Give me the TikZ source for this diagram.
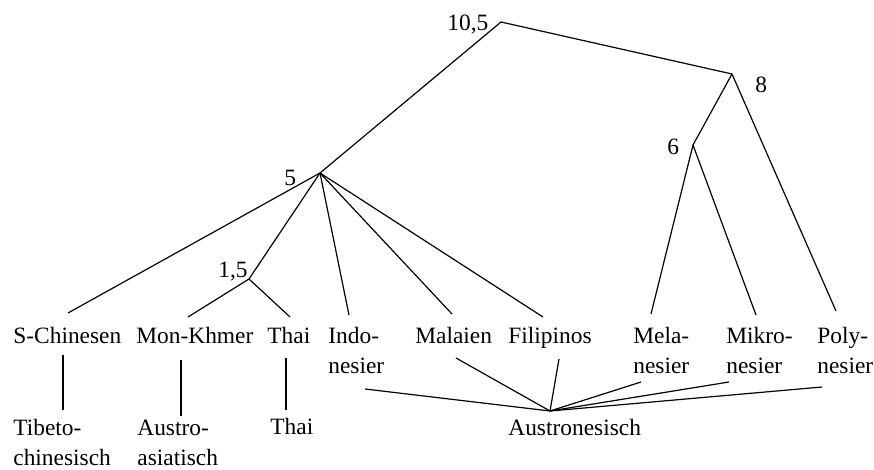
\documentclass[tikz,border=0pt]{standalone}
\usepackage{fontspec}
\setmainfont{Liberation Serif}
\begin{document}
\begin{tikzpicture}[x=0.5pt,y=-0.5pt,
  lbl/.style={inner sep=0pt,anchor=base west,align=left,
    font=\fontsize{11.7}{15.2}\selectfont},
  edge/.style={line width=0.6pt}]
\useasboundingbox (0,0) rectangle (874,470);

% branching points of the tree
\coordinate (r)   at (501,22);
\coordinate (n8)  at (732,74);
\coordinate (n6)  at (693,145);
\coordinate (n5)  at (320,173);
\coordinate (n15) at (249,279);

% value labels at the branching points
\node[lbl] (v105) at (447,31)  {10,5};
\node[lbl] (v8)   at (755,93)  {8};
\node[lbl] (v6)   at (667,155) {6};
\node[lbl] (v5)   at (284,186) {5};
\node[lbl] (v15)  at (218,278) {1,5};

% population names (multi-line nodes sit on the baseline of their last line)
\node[lbl] (sc) at (13,344)  {S-Chinesen};
\node[lbl] (mk) at (136,344) {Mon-Khmer};
\node[lbl] (th) at (267,344) {Thai};
\node[lbl] (in) at (328,374) {Indo-\\nesier};
\node[lbl] (ma) at (415,344) {Malaien};
\node[lbl] (fi) at (508,344) {Filipinos};
\node[lbl] (me) at (633,374) {Mela-\\nesier};
\node[lbl] (mi) at (726,374) {Mikro-\\nesier};
\node[lbl] (po) at (817,374) {Poly-\\nesier};

% language families
\node[lbl] (tib) at (13,466)  {Tibeto-\\chinesisch};
\node[lbl] (aas) at (137,466) {Austro-\\asiatisch};
\node[lbl] (tha) at (270,435) {Thai};
\node[lbl] (aus) at (508,436) {Austronesisch};

% attachment points above the names
\coordinate (scT) at (68,313);
\coordinate (mkT) at (188,317);
\coordinate (thT) at (290,317);
\coordinate (inT) at (349,315);
\coordinate (maT) at (452,314);
\coordinate (fiT) at (543,317);
\coordinate (meT) at (651,314);
\coordinate (miT) at (756,315);
\coordinate (poT) at (836,311);

% attachment points below the names
\coordinate (scB) at (63,355);
\coordinate (mkB) at (181,360);
\coordinate (thB) at (286,358);
\coordinate (inB) at (365,389);
\coordinate (maB) at (456,358);
\coordinate (fiB) at (559,359);
\coordinate (meB) at (641,382);
\coordinate (miB) at (729,382);
\coordinate (poB) at (822,387);

% attachment points above the families
\coordinate (tibT) at (63,410);
\coordinate (aasT) at (181,416);
\coordinate (thaT) at (286,410);
\coordinate (hub)  at (550,411);

% tree
\draw[edge] (n5) -- (r) -- (n8);
\draw[edge] (n8) -- (n6);
\draw[edge] (n8) -- (poT);
\draw[edge] (n6) -- (meT);
\draw[edge] (n6) -- (miT);
\draw[edge] (n5) -- (scT);
\draw[edge] (n5) -- (n15);
\draw[edge] (n15) -- (mkT);
\draw[edge] (n15) -- (thT);
\draw[edge] (n5) -- (inT);
\draw[edge] (n5) -- (maT);
\draw[edge] (n5) -- (fiT);

% links to language families
\draw[edge] (scB) -- (tibT);
\draw[edge] (mkB) -- (aasT);
\draw[edge] (thB) -- (thaT);
\foreach \p in {inB,maB,fiB,meB,miB,poB}
  \draw[edge] (\p) -- (hub);
\end{tikzpicture}
\end{document}
